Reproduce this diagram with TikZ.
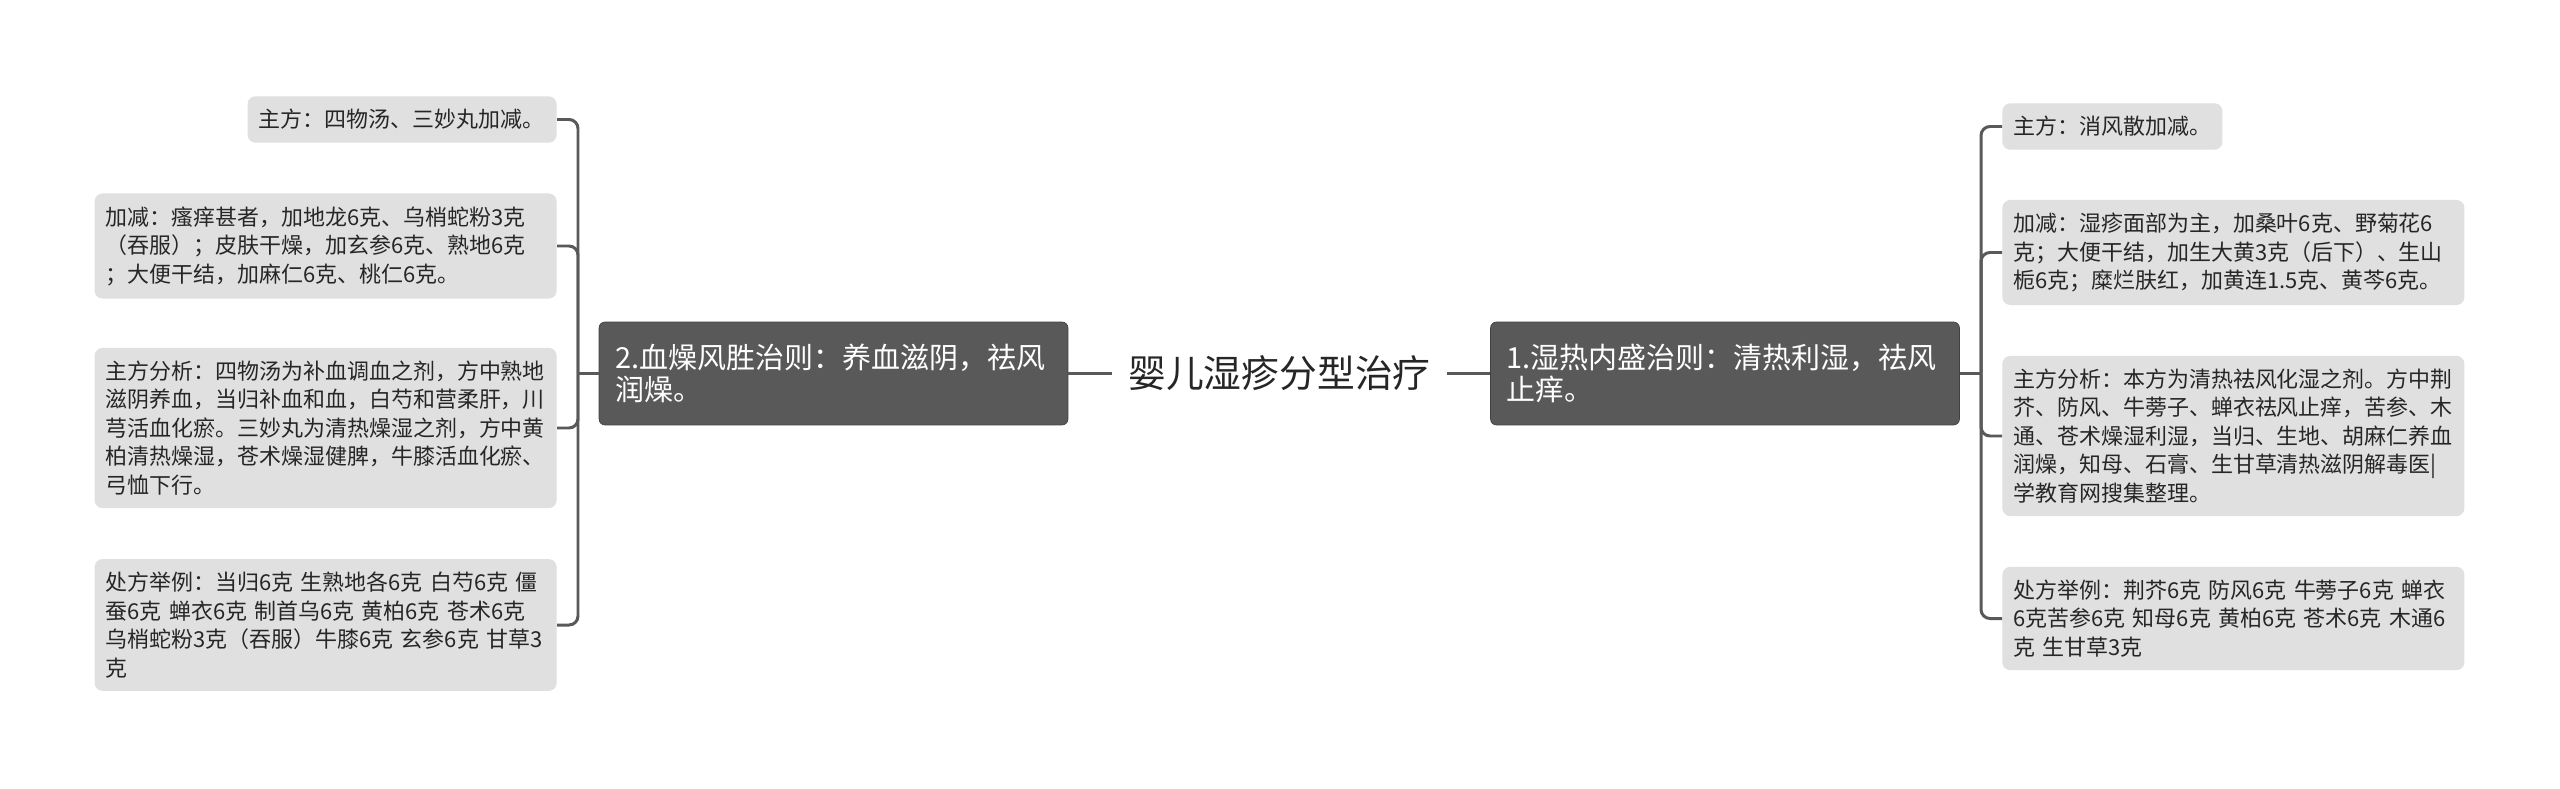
\documentclass[tikz,border=0pt]{standalone}
\usepackage{fontspec}
\setmainfont{Noto Sans CJK SC}
\usepackage{xcolor}
\usetikzlibrary{positioning,calc}

\begin{document}
\begin{tikzpicture}[x=0.02cm, y=-0.02cm,
    leaf/.style={rectangle, rounded corners=0.16cm, fill=black!12, text=black!85, align=left, text width=8.8cm, inner xsep=6.3pt, inner ysep=7.4pt, font=\fontsize{12.5}{16.2}\selectfont},
    branch/.style={rectangle, rounded corners=0.12cm, draw=black!75, fill=black!65, text=white, align=left, text width=8.74cm, inner xsep=9.1pt, minimum height=2.06cm, font=\fontsize{16.5}{18.2}\selectfont},
    topic/.style={text=black!85, inner xsep=0.33cm, font=\fontsize{21.5}{26}\selectfont},
    link/.style={draw=black!65, line width=1.7pt, rounded corners=0.18cm}]

  \path[fill=white, use as bounding box] (0,0) rectangle (2560,788);

  \node[topic] (root) at (1279.5,373.5) {婴儿湿疹分型治疗};
  \node[branch] (B2) at (833.5,373.5) {2.血燥风胜治则：养血滋阴，祛风\\润燥。};
  \node[branch] (B1) at (1725,373.5) {1.湿热内盛治则：清热利湿，祛风\\止痒。};

  \coordinate (LJ) at (578,373.5);
  \coordinate (RJ) at (1981,373.5);

  \node[leaf, anchor=east, text width=5.74cm] (L1) at (557,119.5) {主方：四物汤、三妙丸加减。};
  \node[leaf, anchor=east] (L2) at (557,246) {加减：瘙痒甚者，加地龙6克、乌梢蛇粉3克\\（吞服）；皮肤干燥，加玄参6克、熟地6克\\；大便干结，加麻仁6克、桃仁6克。};
  \node[leaf, anchor=east] (L3) at (557,428) {主方分析：四物汤为补血调血之剂，方中熟地\\滋阴养血，当归补血和血，白芍和营柔肝，川\\芎活血化瘀。三妙丸为清热燥湿之剂，方中黄\\柏清热燥湿，苍术燥湿健脾，牛膝活血化瘀、\\弓恤下行。};
  \node[leaf, anchor=east] (L4) at (557,625) {处方举例：当归6克 生熟地各6克 白芍6克 僵\\蚕6克 蝉衣6克 制首乌6克 黄柏6克 苍术6克\\乌梢蛇粉3克（吞服）牛膝6克 玄参6克 甘草3\\克};

  \node[leaf, anchor=west, text width=3.96cm] (R1) at (2002,126.5) {主方：消风散加减。};
  \node[leaf, anchor=west] (R2) at (2002,252.5) {加减：湿疹面部为主，加桑叶6克、野菊花6\\克；大便干结，加生大黄3克（后下）、生山\\栀6克；糜烂肤红，加黄连1.5克、黄芩6克。};
  \node[leaf, anchor=west] (R3) at (2002,436) {主方分析：本方为清热祛风化湿之剂。方中荆\\芥、防风、牛蒡子、蝉衣祛风止痒，苦参、木\\通、苍术燥湿利湿，当归、生地、胡麻仁养血\\润燥，知母、石膏、生甘草清热滋阴解毒医|\\学教育网搜集整理。};
  \node[leaf, anchor=west] (R4) at (2002,618.5) {处方举例：荆芥6克 防风6克 牛蒡子6克 蝉衣\\6克苦参6克 知母6克 黄柏6克 苍术6克 木通6\\克 生甘草3克};

  \draw[link] (B2.east) -- (root.west);
  \draw[link] (root.east) -- (B1.west);

  \draw[link] (B2.west) -- (LJ);
  \draw[link] (LJ) |- (L1.east);
  \draw[link] (LJ) |- (L2.east);
  \draw[link] (LJ) |- (L3.east);
  \draw[link] (LJ) |- (L4.east);

  \draw[link] (B1.east) -- (RJ);
  \draw[link] (RJ) |- (R1.west);
  \draw[link] (RJ) |- (R2.west);
  \draw[link] (RJ) |- (R3.west);
  \draw[link] (RJ) |- (R4.west);
\end{tikzpicture}
\end{document}
